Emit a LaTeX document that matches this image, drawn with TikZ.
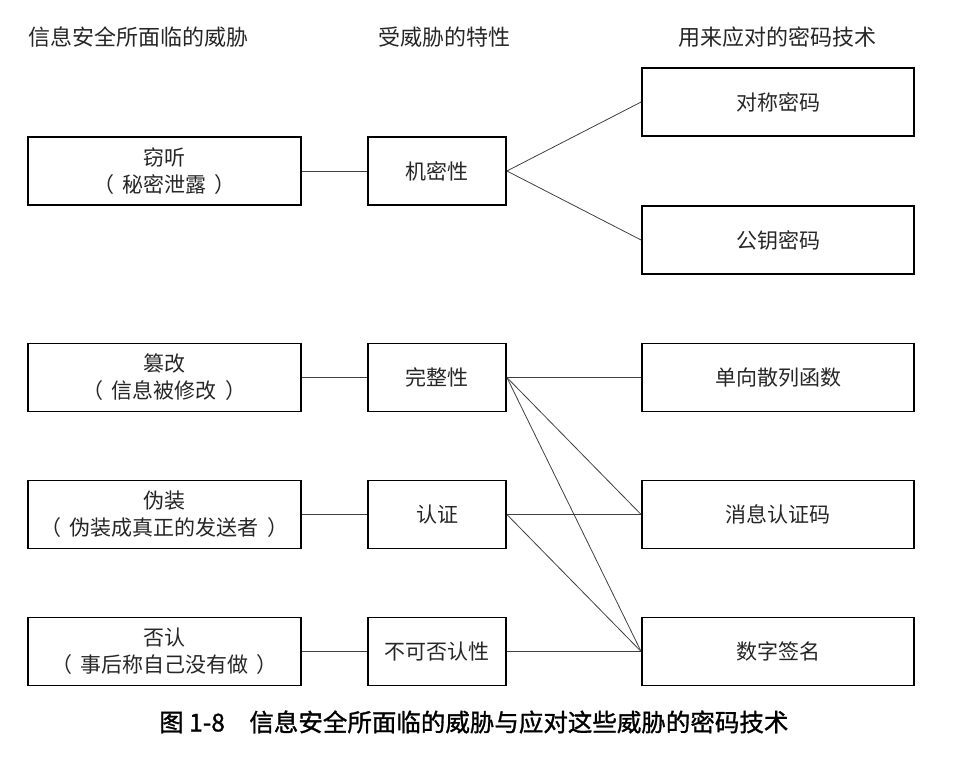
\documentclass[tikz,border=0pt]{standalone}
\usepackage{fontspec}
\setmainfont{Noto Sans CJK SC}
\newfontfamily\capfont[FakeBold=1.2]{Noto Sans CJK SC}
\usetikzlibrary{positioning}

\begin{document}
\begin{tikzpicture}[x=1pt,y=-1pt,
  threat/.style={draw,line width=1.8pt,minimum width=273pt,minimum height=68pt,inner sep=0pt,align=center,text=black!85,font=\fontsize{21}{27}\selectfont},
  prop/.style={threat,minimum width=138pt},
  tech/.style={threat,minimum width=272pt},
  head/.style={inner sep=0pt,text=black!85,font=\fontsize{22}{26}\selectfont},
  e/.style={draw=black!75,line width=0.8pt}
]
\useasboundingbox (0,0) rectangle (963,756);
% column heads
\node[head,anchor=west] (h1) at (28,37) {信息安全所面临的威胁};
\node[head] (h2) at (444,37) {受威胁的特性};
\node[head] (h3) at (777,37) {用来应对的密码技术};
% threats
\node[threat] (eave) at (164.5,171) {窃听\\（\hspace{0.4em}秘密泄露\hspace{0.4em}）};
\node[threat] (tamp) at (164.5,377.5) {篡改\\（\hspace{0.4em}信息被修改\hspace{0.4em}）};
\node[threat] (spoof) at (164.5,514.5) {伪装\\（\hspace{0.4em}伪装成真正的发送者\hspace{0.4em}）};
\node[threat] (repu) at (164.5,651.5) {否认\\（\hspace{0.4em}事后称自己没有做\hspace{0.4em}）};
% properties
\node[prop] (conf) at (437,171) {机密性};
\node[prop] (integ) at (437,377.5) {完整性};
\node[prop] (auth) at (437,514.5) {认证};
\node[prop] (nonrep) at (437,651.5) {不可否认性};
% techniques
\node[tech] (sym) at (778,102) {对称密码};
\node[tech] (pub) at (778,240) {公钥密码};
\node[tech] (hash) at (778,377.5) {单向散列函数};
\node[tech] (mac) at (778,514.5) {消息认证码};
\node[tech] (sig) at (778,651.5) {数字签名};
\foreach \x/\y in {eave/conf,tamp/integ,spoof/auth,repu/nonrep,conf/sym,conf/pub,integ/hash,integ/mac,integ/sig,auth/mac,auth/sig,nonrep/sig} \draw[e] (\x.east)--(\y.west);
\node[inner sep=0pt,anchor=west,font=\capfont\fontsize{24.5}{28}\selectfont] (cap) at (159,722) {图 1-8\hspace{1em}信息安全所面临的威胁与应对这些威胁的密码技术};
\end{tikzpicture}
\end{document}
